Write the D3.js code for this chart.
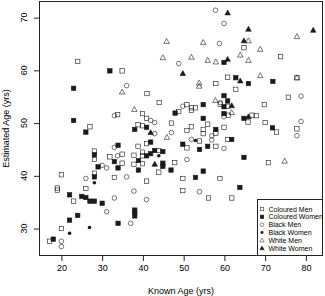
<!DOCTYPE html>
<html>
<head>
<meta charset="utf-8">
<script src="https://cdn.jsdelivr.net/npm/d3@7"></script>
<style>
  body { margin: 0; background: #fff; }
  text { font-family: "Liberation Sans", Arial, sans-serif; fill: #000; }
</style>
</head>
<body>
<svg id="chart" width="325" height="296"></svg>
<script>
// [known age, estimated age] pairs
const colouredMen = [
  [24.0,61.7],[34.9,59.9],[27.0,49.3],[33.8,51.6],[28.1,44.7],[28.1,43.1],[31.9,43.6],[34.9,44.1],
  [28.1,40.5],[33.0,39.7],[20.0,40.2],[19.0,37.7],[19.0,37.3],[26.0,37.6],[23.0,35.2],[20.0,30.0],
  [17.1,27.6],[41.0,55.6],[44.0,53.9],[39.9,51.8],[40.9,50.9],[38.8,49.7],[39.9,49.5],[47.0,50.0],
  [38.8,45.6],[40.9,46.1],[37.8,43.9],[39.9,44.5],[39.9,43.8],[43.9,44.8],[34.9,42.4],[37.8,42.2],
  [39.9,42.3],[43.9,40.7],[47.8,42.5],[40.9,39.0],[48.8,52.2],[50.8,53.5],[51.9,52.9],[52.9,52.9],
  [51.9,52.4],[55.9,49.8],[61.0,51.5],[66.8,51.5],[67.8,51.4],[65.8,50.2],[70.0,50.1],[72.8,48.3],
  [77.8,48.9],[50.8,48.6],[51.9,49.3],[54.8,48.8],[54.8,48.0],[57.9,48.1],[59.9,49.2],[53.9,46.6],
  [60.8,46.9],[50.8,45.3],[57.9,45.6],[70.8,42.5],[49.8,39.5],[58.9,39.5],[49.8,37.2],[56.1,35.8],
  [61.8,35.8],[64.8,64.3],[73.8,62.6],[57.9,57.5],[60.8,58.7],[62.8,56.4],[77.8,58.6],[75.7,54.9],
  [69.8,53.5],[59.0,53.6],[60.8,53.2]
];
const colouredWomen = [
  [31.9,59.9],[23.0,56.6],[23.0,50.5],[26.0,48.3],[33.9,45.8],[28.1,44.0],[33.0,42.7],[33.9,41.5],
  [29.0,41.7],[28.1,39.8],[22.0,36.4],[25.0,36.1],[26.0,35.9],[27.0,35.2],[28.1,35.2],[30.0,34.8],
  [24.0,32.5],[22.0,31.6],[33.9,31.0],[18.0,28.0],[47.9,51.9],[38.0,48.8],[40.9,49.2],[41.9,46.4],
  [38.9,42.9],[40.9,43.8],[41.9,44.2],[42.9,44.8],[44.9,44.6],[44.9,42.4],[44.9,41.8],[46.9,41.1],
  [38.9,41.1],[38.0,33.5],[38.0,33.0],[38.0,32.4],[59.9,61.5],[62.8,58.6],[65.9,57.5],[71.9,57.9],
  [59.9,55.2],[60.8,54.2],[54.8,53.5],[59.9,53.1],[54.8,50.9],[59.9,51.8],[64.8,50.9],[71.8,49.1],
  [57.9,48.8],[61.8,46.9],[49.8,46.0],[53.9,45.0],[55.9,45.6],[64.8,43.5],[54.8,40.9],[52.9,39.7],
  [63.8,37.8]
];
const blackMen = [
  [33.0,51.4],[36.0,57.1],[48.8,61.3],[33.0,45.4],[33.8,43.8],[30.0,42.0],[31.1,41.5],[26.0,39.5],
  [33.0,35.8],[31.1,33.2],[20.0,27.6],[20.0,26.6],[41.9,50.5],[42.9,50.1],[42.9,48.0],[47.0,48.2],
  [36.0,39.8],[37.8,37.1],[40.9,35.5],[37.0,31.0],[57.8,71.4],[59.9,68.9],[58.8,65.1],[59.0,53.9],
  [49.8,53.2],[59.9,51.2],[78.8,55.1],[78.8,50.3],[77.8,47.6],[56.9,47.6],[56.9,46.8],[51.9,46.9],
  [59.9,45.2],[50.8,43.1],[53.9,37.0]
];
const blackWomen = [
  [28.1,38.7],[26.9,30.2],[22.0,29.1],[43.9,43.8],[52.9,46.7]
];
const whiteMen = [
  [45.8,65.5],[44.9,62.4],[34.9,55.9],[37.9,52.6],[45.9,47.3],[77.8,66.4],[54.8,65.3],[65.9,65.6],
  [68.8,64.0],[51.9,62.5],[55.9,61.9],[57.9,61.6],[63.9,62.9],[65.9,61.9],[53.8,57.6],[53.8,57.0],
  [68.8,59.0],[77.8,58.6],[57.8,54.3],[61.8,52.0],[74.8,42.8]
];
const whiteWomen = [
  [60.8,70.9],[65.9,67.8],[81.8,67.6],[64.8,65.6],[60.8,62.1],[49.8,59.4],[63.9,58.0],[61.8,53.3],
  [65.9,51.2],[41.9,48.2],[42.9,42.2]
];

const xTicks = [20, 30, 40, 50, 60, 70, 80];
const yTicks = [30, 40, 50, 60, 70];

const groups = [
  { name: 'Coloured Men',   data: colouredMen,   shape: 'square',   filled: false },
  { name: 'Coloured Women', data: colouredWomen, shape: 'square',   filled: true },
  { name: 'Black Men',      data: blackMen,      shape: 'circle',   filled: false },
  { name: 'Black Women',    data: blackWomen,    shape: 'dot',      filled: true },
  { name: 'White Men',      data: whiteMen,      shape: 'triangle', filled: false },
  { name: 'White Women',    data: whiteWomen,    shape: 'triangle', filled: true }
];

const margin = { left: 39, right: 2, top: 1, bottom: 40 };
const width = 325, height = 296;

const svg = d3.select('#chart');

const x = d3.scaleLinear().domain([14.5, 84.2]).range([margin.left, width - margin.right]);
const y = d3.scaleLinear().domain([24.8, 73.15]).range([height - margin.bottom, margin.top]);

// draws one marker of a given shape centred on (0,0)
function marker(sel, shape, filled) {
  const ink = '#1a1a1a';
  if (shape === 'square') {
    sel.append('rect').attr('x', -2.2).attr('y', -2.2).attr('width', 4.4).attr('height', 4.4)
      .attr('fill', filled ? ink : 'none').attr('stroke', ink).attr('stroke-width', 0.6);
  } else if (shape === 'circle') {
    sel.append('circle').attr('r', 2.3)
      .attr('fill', 'none').attr('stroke', ink).attr('stroke-width', 0.6);
  } else if (shape === 'dot') {
    sel.append('circle').attr('r', 1.8).attr('fill', ink);
  } else {
    const s = 2.9;
    sel.append('path')
      .attr('d', `M0,${-s}L${s * 0.95},${s * 0.7}L${-s * 0.95},${s * 0.7}Z`)
      .attr('fill', filled ? ink : 'none').attr('stroke', ink).attr('stroke-width', 0.6);
  }
}

// points
groups.forEach(g => {
  svg.append('g')
    .selectAll('g')
    .data(g.data)
    .join('g')
    .attr('transform', d => `translate(${x(d[0])},${y(d[1])})`)
    .each(function () { marker(d3.select(this), g.shape, g.filled); });
});

// plot box
svg.append('rect')
  .attr('x', margin.left + 0.5)
  .attr('y', margin.top + 0.5)
  .attr('width', width - margin.left - margin.right - 1)
  .attr('height', height - margin.top - margin.bottom - 1)
  .attr('fill', 'none')
  .attr('stroke', '#222')
  .attr('stroke-width', 1);

// x axis
const xAxis = d3.axisBottom(x).tickValues(xTicks).tickSize(5).tickPadding(4);
svg.append('g')
  .attr('transform', `translate(0,${height - margin.bottom})`)
  .call(xAxis)
  .call(a => a.select('.domain').remove())
  .call(a => a.selectAll('line').attr('stroke', '#222'))
  .call(a => a.selectAll('text').attr('font-size', 9).attr('font-family', '"Liberation Sans", Arial, sans-serif'));

// y axis with labels parallel to the axis
const yAxis = d3.axisLeft(y).tickValues(yTicks).tickSize(5).tickFormat('');
svg.append('g')
  .attr('transform', `translate(${margin.left},0)`)
  .call(yAxis)
  .call(a => a.select('.domain').remove())
  .call(a => a.selectAll('line').attr('stroke', '#222'));

svg.append('g')
  .selectAll('text')
  .data(yTicks)
  .join('text')
  .attr('transform', d => `translate(24,${y(d)}) rotate(-90)`)
  .attr('text-anchor', 'middle')
  .attr('dominant-baseline', 'central')
  .attr('font-size', 9)
  .text(d => d);

// axis titles
svg.append('text')
  .attr('x', (margin.left + width - margin.right) / 2)
  .attr('y', 291)
  .attr('text-anchor', 'middle')
  .attr('dominant-baseline', 'central')
  .attr('font-size', 9)
  .text('Known Age (yrs)');

svg.append('text')
  .attr('transform', `translate(6,${(margin.top + height - margin.bottom) / 2}) rotate(-90)`)
  .attr('text-anchor', 'middle')
  .attr('dominant-baseline', 'central')
  .attr('font-size', 9)
  .text('Estimated Age (yrs)');

// legend, bottom right
const legend = svg.append('g').attr('transform', 'translate(257,199)');
legend.append('rect')
  .attr('x', 0.5).attr('y', 0.5)
  .attr('width', 65).attr('height', 56)
  .attr('fill', '#fff').attr('stroke', '#222').attr('stroke-width', 1);

const rows = legend.selectAll('g.row')
  .data(groups)
  .join('g')
  .attr('class', 'row')
  .attr('transform', (d, i) => `translate(5,${10 + i * 7.85})`);

rows.each(function (d) {
  const r = d3.select(this).append('g').attr('transform', 'scale(0.8)');
  marker(r, d.shape, d.filled);
});

rows.append('text')
  .attr('x', 6.5)
  .attr('dominant-baseline', 'central')
  .attr('font-size', 7)
  .text(d => d.name);
</script>
</body>
</html>
